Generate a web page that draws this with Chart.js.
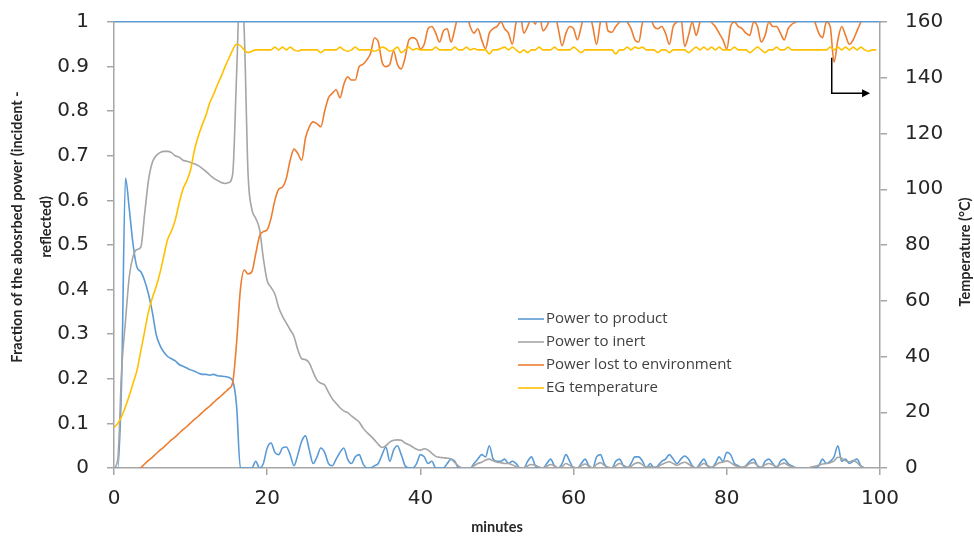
<!DOCTYPE html>
<html><head><meta charset="utf-8">
<script src="https://cdn.jsdelivr.net/npm/chart.js@4/dist/chart.umd.min.js"></script>
<style>html,body{margin:0;padding:0;background:#fff}canvas{display:block}</style>
</head><body>
<canvas id="c" width="974" height="536"></canvas>
<script>
const minutes = [
0,0.5,1,1.5,2,2.5,3,3.5,4,4.5,
5,5.5,6,6.5,7,7.5,8,8.5,9,9.5,
10,10.5,11,11.5,12,12.5,13,13.5,14,14.5,
15,15.5,16,16.5,17,17.5,18,18.5,19,19.5,
20,20.5,21,21.5,22,22.5,23,23.5,24,24.5,
25,25.5,26,26.5,27,27.5,28,28.5,29,29.5,
30,30.5,31,31.5,32,32.5,33,33.5,34,34.5,
35,35.5,36,36.5,37,37.5,38,38.5,39,39.5,
40,40.5,41,41.5,42,42.5,43,43.5,44,44.5,
45,45.5,46,46.5,47,47.5,48,48.5,49,49.5,
50,50.5,51,51.5,52,52.5,53,53.5,54,54.5,
55,55.5,56,56.5,57,57.5,58,58.5,59,59.5,
60,60.5,61,61.5,62,62.5,63,63.5,64,64.5,
65,65.5,66,66.5,67,67.5,68,68.5,69,69.5,
70,70.5,71,71.5,72,72.5,73,73.5,74,74.5,
75,75.5,76,76.5,77,77.5,78,78.5,79,79.5,
80,80.5,81,81.5,82,82.5,83,83.5,84,84.5,
85,85.5,86,86.5,87,87.5,88,88.5,89,89.5,
90,90.5,91,91.5,92,92.5,93,93.5,94,94.5,
95,95.5,96,96.5,97,97.5,98,98.5,99,99.5];

const powerToProduct = [
0,0,0.2,0.65,0.58,0.5,0.45,0.44,0.42,0.39,
0.35,0.3,0.275,0.26,0.25,0.245,0.24,0.232,0.228,0.224,
0.22,0.217,0.213,0.21,0.21,0.208,0.21,0.207,0.206,0.205,
0.203,0.195,0.14,0,0,0,0,0.015,0,0.01,
0.045,0.056,0.035,0.03,0.045,0.047,0.03,0.005,0.03,0.06,
0.072,0.04,0.01,0.025,0.045,0.035,0.01,0.005,0.02,0.035,
0.045,0.02,0.01,0.025,0.03,0.01,0,0,0.005,0.01,
0.03,0.047,0.015,0.04,0.05,0.03,0.005,0,0,0.01,
0.03,0.025,0.01,0.015,0,0,0,0.01,0.02,0.015,
0,0,0,0,0.01,0.02,0.03,0.025,0.05,0.02,
0.015,0.015,0.02,0.01,0.015,0.01,0,0,0.015,0.025,
0.005,0,0,0.01,0.02,0.005,0,0.01,0.03,0.015,
0,0,0.01,0.02,0.005,0,0.025,0.03,0.01,0,
0,0.015,0.02,0.005,0,0.01,0.025,0.025,0.015,0,
0.01,0,0.005,0.015,0.02,0.03,0.02,0.01,0.02,0.027,
0.02,0.005,0,0.01,0.02,0.005,0,0.01,0.025,0.015,
0.035,0.03,0.01,0.005,0,0.005,0.015,0.02,0.005,0,
0.015,0.02,0.01,0,0.015,0.02,0.01,0.005,0,0,
0,0,0,0,0.005,0.02,0.01,0.015,0.025,0.05,
0.015,0.02,0.01,0.015,0.02,0.005,0,null,null,null];

const powerToInert = [
0,0.02,0.22,0.33,0.43,0.475,0.49,0.495,0.57,0.645,
0.685,0.7,0.707,0.71,0.71,0.707,0.7,0.697,0.69,0.688,
0.685,0.682,0.678,0.672,0.665,0.657,0.65,0.645,0.64,0.638,
0.64,0.66,0.88,1.1,0.98,0.66,0.58,0.56,0.535,0.47,
0.42,0.405,0.39,0.36,0.34,0.325,0.31,0.295,0.265,0.245,
0.243,0.235,0.215,0.197,0.19,0.186,0.17,0.155,0.145,0.135,
0.128,0.124,0.117,0.11,0.103,0.09,0.08,0.072,0.063,0.053,
0.046,0.05,0.058,0.062,0.063,0.062,0.056,0.052,0.047,0.042,
0.04,0.043,0.04,0.033,0.026,0.024,0.023,0.022,0.02,0.012,
0.004,0,0,0,0.005,0.01,0.013,0.018,0.02,0.016,
0.013,0.012,0.01,0.01,0.007,0.003,0,0,0.005,0.008,
0.006,0.002,0,0.004,0.008,0.005,0,0.003,0.01,0.006,
0.002,0,0.005,0.009,0.004,0,0.008,0.012,0.006,0.002,
0,0.005,0.01,0.006,0.002,0.004,0.01,0.012,0.007,0.002,
0.004,0.002,0.003,0.008,0.012,0.014,0.01,0.006,0.01,0.013,
0.009,0.003,0,0.005,0.01,0.005,0.002,0.006,0.012,0.013,
0.016,0.012,0.006,0.003,0.002,0.004,0.01,0.012,0.005,0.002,
0.007,0.01,0.007,0.003,0.008,0.011,0.006,0.003,0.001,0,
0,0,0.002,0.004,0.006,0.009,0.01,0.012,0.016,0.024,
0.022,0.016,0.014,0.017,0.012,0.004,0,null,null,null];

const powerLostToEnvironment = [
null,null,null,null,null,null,null,0,0.009,0.017,
0.024,0.032,0.04,0.047,0.055,0.063,0.07,0.078,0.086,0.093,
0.101,0.109,0.116,0.124,0.132,0.139,0.147,0.155,0.162,0.17,
0.178,0.192,0.28,0.4,0.444,0.435,0.44,0.48,0.52,0.53,
0.534,0.56,0.6,0.625,0.63,0.65,0.69,0.715,0.705,0.69,
0.74,0.765,0.776,0.772,0.765,0.8,0.83,0.84,0.848,0.83,
0.86,0.877,0.87,0.87,0.9,0.905,0.915,0.93,0.964,0.955,
0.91,0.9,0.905,0.935,0.905,0.895,0.92,0.96,0.965,0.96,
0.94,0.95,0.985,0.99,0.975,0.955,0.98,0.985,0.955,0.985,
1.02,1.03,1.02,0.99,0.975,0.985,0.96,0.94,0.975,0.985,
0.99,1.0,0.985,0.975,0.95,1.0,1.02,0.975,0.99,1.01,
0.995,1.02,0.98,0.99,1.01,1.02,0.985,0.947,0.975,0.99,
0.985,0.96,0.99,1.02,1.02,0.99,0.95,1.0,1.02,0.98,
0.977,0.99,1.0,1.01,1.0,0.985,0.96,0.955,1.0,1.02,
1.01,0.99,0.985,0.99,0.975,0.95,0.99,1.0,1.01,0.945,
0.97,1.0,0.97,1.0,1.02,1.03,1.0,0.99,0.975,0.96,
0.94,0.99,1.0,0.99,0.985,0.975,0.97,1.0,0.99,0.955,
0.97,1.0,0.99,0.99,0.975,0.96,0.985,0.995,1.0,1.01,
1.02,1.03,1.02,1.0,0.975,0.965,1.0,0.99,0.91,0.96,
0.99,0.97,0.95,0.96,0.98,1.0,null,null,null,null];

const egTemperature = [
14.5,16,18.5,22,26,30.5,35,42,49,56,
61,65,70,76,82,85,89,95,100,103,
107,114,119,123,126.5,131,134,137.5,140.5,144,
147,150,152,151.5,150,149,149.5,150,150,150,
150,150,151,150,151,150,151,150,149.5,150,
150,150,150,150,149,150,150,150,150,151,
150,149.5,150,151,150,150,150,150,149.5,150,
151,150.5,149.5,150,151,149,150,151,150,150.5,
150,150,150,150,151,150,150,150,150,151,
150,150,151,150,150.5,150,150,150,148.5,150,
150,150.5,151,150,151,150,149,150,149,150,
150,151,150,150,150,151,150,150,150,150,
151,150,149,150,150,150,150,150,150,150,
150,148.5,150,150,151,150,151,150.5,151,150,
150,150,149,150,150,149,150,150,150,150,
149,150,151,150,151,150,151,150,151,150,
150,150,151,150,150,150,149,150,151,150,
149,150,150,151,150,150,151,150,150,150,
150,150,150,150,150,150,150,151,150,151,
150,151,150,151,150,151,150,149.5,150,150];

const seriesLabels = ['Power to product','Power to inert','Power lost to environment','EG temperature'];
const xTicks = [0,20,40,60,80,100];
const fractionTicks = [0,0.1,0.2,0.3,0.4,0.5,0.6,0.7,0.8,0.9,1];
const temperatureTicks = [0,20,40,60,80,100,120,140,160];
const arrowPath = [[93.7,0.92],[93.7,0.84],[98.7,0.84]];

const COLORS = ['#5B9BD5','#A5A5A5','#ED7D31','#FFC000'];
const AXIS_GREY = '#A6A6A6';
const TEXT = '#262626';

function pts(arr){ return minutes.map((t,i)=>({x:t, y:arr[i]})); }

function ds(i, arr, axis, order){
  return {label: seriesLabels[i], data: pts(arr), yAxisID: axis, order: order,
    borderColor: COLORS[i], backgroundColor: COLORS[i], borderWidth: 1.6,
    pointRadius: 0, pointHoverRadius: 0, fill: false, spanGaps: false,
    cubicInterpolationMode: 'monotone'};
}

const tickFont = {family: 'DejaVu Sans', size: 20};
function noPad(s){ s.paddingTop = 0; s.paddingBottom = 0; s.paddingLeft = 0; s.paddingRight = 0; }

const decor = {
  id: 'decor',
  afterDatasetsDraw(chart){
    const {ctx, scales} = chart;
    ctx.save();
    ctx.strokeStyle = '#000'; ctx.fillStyle = '#000'; ctx.lineWidth = 1.5;
    ctx.beginPath();
    arrowPath.forEach((p,i)=>{
      const px = scales.x.getPixelForValue(p[0]);
      const py = scales.y.getPixelForValue(p[1]);
      if(i===0) ctx.moveTo(px,py); else ctx.lineTo(px-(i===arrowPath.length-1?6:0),py);
    });
    ctx.stroke();
    const last = arrowPath[arrowPath.length-1];
    const ex = scales.x.getPixelForValue(last[0]), ey = scales.y.getPixelForValue(last[1]);
    ctx.beginPath(); ctx.moveTo(ex,ey); ctx.lineTo(ex-8,ey-4); ctx.lineTo(ex-8,ey+4); ctx.closePath(); ctx.fill();
    ctx.restore();
  },
  afterDraw(chart){
    const {ctx, chartArea} = chart;
    ctx.save();
    ctx.font = '15px "Open Sans"';
    ctx.textBaseline = 'middle';
    const lx = 518, ly0 = 319, step = 23;
    chart.data.datasets.forEach((d,i)=>{
      const y = ly0 + i*step;
      ctx.strokeStyle = d.borderColor; ctx.lineWidth = 1.6;
      ctx.beginPath(); ctx.moveTo(lx, y); ctx.lineTo(lx+26, y); ctx.stroke();
      ctx.fillStyle = '#404040'; ctx.textAlign = 'left';
      ctx.fillText(d.label, lx+28, y);
    });
    ctx.fillStyle = TEXT;
    ctx.font = 'bold 14.5px Lato';
    ctx.textAlign = 'center'; ctx.textBaseline = 'middle';
    ctx.fillText('minutes', (chartArea.left+chartArea.right)/2, 527);
    ctx.save(); ctx.translate(17, 227); ctx.rotate(-Math.PI/2);
    ctx.fillText('Fraction of the abosrbed power (incident -', 0, 0); ctx.restore();
    ctx.save(); ctx.translate(46, 227); ctx.rotate(-Math.PI/2);
    ctx.fillText('reflected)', 0, 0); ctx.restore();
    ctx.save(); ctx.translate(965, 252); ctx.rotate(-Math.PI/2);
    ctx.fillText('Temperature (°C)', 0, 0); ctx.restore();
    ctx.restore();
  }
};

new Chart(document.getElementById('c'), {
  type: 'line',
  data: { datasets: [
    ds(0, powerToProduct, 'y', 4),
    ds(1, powerToInert, 'y', 3),
    ds(2, powerLostToEnvironment, 'y', 2),
    ds(3, egTemperature, 'y1', 1)
  ]},
  options: {
    responsive: false, animation: false, devicePixelRatio: 1,
    layout: {padding: 0, autoPadding: false},
    plugins: {legend: {display: false}, tooltip: {enabled: false}},
    scales: {
      x: {type: 'linear', position: 'bottom', min: xTicks[0], max: xTicks[xTicks.length-1],
        afterBuildTicks(s){ s.ticks = xTicks.map(v=>({value:v})); },
        afterFit(s){ s.height = 68; noPad(s); },
        ticks: {font: tickFont, color: TEXT, padding: 12, maxRotation: 0},
        grid: {drawOnChartArea: false, drawTicks: true, tickLength: 7, color: AXIS_GREY, lineWidth: 1.5},
        border: {color: AXIS_GREY, width: 1.5}},
      xTop: {type: 'linear', position: 'top', min: 0, max: 100,
        afterFit(s){ s.height = 22; noPad(s); },
        ticks: {display: false},
        grid: {drawOnChartArea: false, drawTicks: false},
        border: {color: COLORS[0], width: 1.5}},
      y: {type: 'linear', position: 'left', min: fractionTicks[0], max: fractionTicks[fractionTicks.length-1],
        afterBuildTicks(s){ s.ticks = fractionTicks.map(v=>({value:v})); },
        afterFit(s){ s.width = 114; noPad(s); },
        ticks: {font: tickFont, color: TEXT, padding: 18, callback: v => String(v)},
        grid: {drawOnChartArea: false, drawTicks: true, tickLength: 7, color: AXIS_GREY, lineWidth: 1.5},
        border: {color: AXIS_GREY, width: 1.5}},
      y1: {type: 'linear', position: 'right', min: temperatureTicks[0], max: temperatureTicks[temperatureTicks.length-1],
        afterBuildTicks(s){ s.ticks = temperatureTicks.map(v=>({value:v})); },
        afterFit(s){ s.width = 94; noPad(s); },
        ticks: {font: tickFont, color: TEXT, padding: 18},
        grid: {drawOnChartArea: false, drawTicks: true, tickLength: 7, color: AXIS_GREY, lineWidth: 1.5},
        border: {color: AXIS_GREY, width: 1.5}}
    }
  },
  plugins: [decor]
});
</script>
</body></html>
